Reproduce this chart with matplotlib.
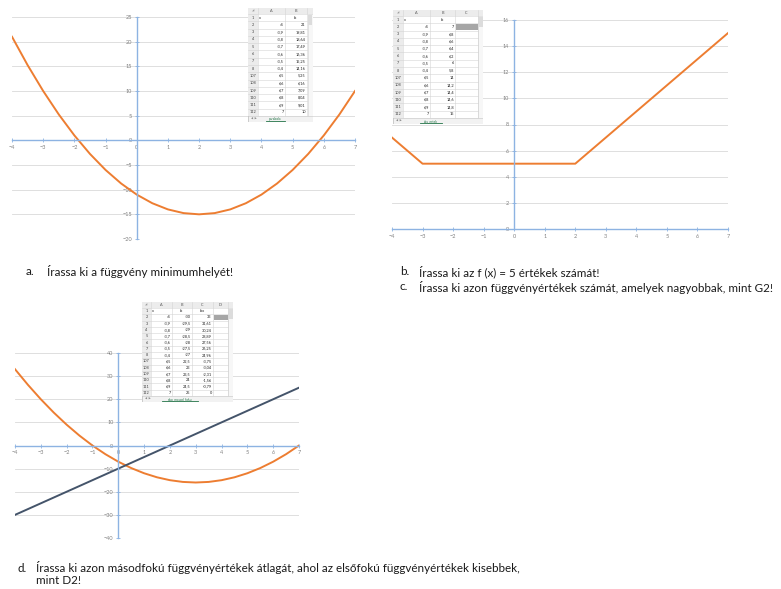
import numpy as np
import matplotlib.pyplot as plt
from matplotlib.patches import Rectangle

plt.rcParams['font.family'] = ['Lato', 'DejaVu Sans']

W, H = 781, 589

# chart data
xs = [-4, -3.5, -3, -2.5, -2, -1.5, -1, -0.5, 0, 0.5, 1, 1.5, 2, 2.5, 3, 3.5,
      4, 4.5, 5, 5.5, 6, 6.5, 7]
parab = [21, 15.25, 10, 5.25, 1, -2.75, -6, -8.75, -11, -12.75, -14, -14.75, -15,
         -14.75, -14, -12.75, -11, -8.75, -6, -2.75, 1, 5.25, 10]
abs_f = [7, 6, 5, 5, 5, 5, 5, 5, 5, 5, 5, 5, 5, 6, 7, 8, 9, 10, 11, 12, 13, 14, 15]
lin = [-30, -27.5, -25, -22.5, -20, -17.5, -15, -12.5, -10, -7.5, -5, -2.5, 0,
       2.5, 5, 7.5, 10, 12.5, 15, 17.5, 20, 22.5, 25]
parab2 = [33, 26.25, 20, 14.25, 9, 4.25, 0, -3.75, -7, -9.75, -12, -13.75, -15,
          -15.75, -16, -15.75, -15, -13.75, -12, -9.75, -7, -3.75, 0]

# excel table snippets
t_rows = [1, 2, 3, 4, 5, 6, 7, 8, 107, 108, 109, 110, 111, 112]
t_x = [-4, -3.9, -3.8, -3.7, -3.6, -3.5, -3.4, 6.5, 6.6, 6.7, 6.8, 6.9, 7]
t1_f = [21, 19.81, 18.64, 17.49, 16.36, 15.25, 14.16, 5.25, 6.16, 7.09, 8.04, 9.01, 10]
t2_f = [7, 6.8, 6.6, 6.4, 6.2, 6, 5.8, 14, 14.2, 14.4, 14.6, 14.8, 15]
t3_lin = [-30, -29.5, -29, -28.5, -28, -27.5, -27, 22.5, 23, 23.5, 24, 24.5, 25]
t3_quad = [33, 31.61, 30.24, 28.89, 27.56, 26.25, 24.96, -3.75, -3.04, -2.31,
           -1.56, -0.79, 0]

ORANGE = '#ed7d31'
NAVY = '#44546a'
AXC = '#8db3e2'

fig = plt.figure(figsize=(W / 100, H / 100), dpi=100)
fig.patch.set_facecolor('white')


def px_axes(x0, y0, x1, y1):
    return fig.add_axes([x0 / W, 1 - y1 / H, (x1 - x0) / W, (y1 - y0) / H])


def chart(box, ylim, yticks):
    ax = px_axes(*box)
    ax.set_xlim(-4, 7)
    ax.set_ylim(*ylim)
    ax.patch.set_alpha(0)
    for s in ['top', 'right']:
        ax.spines[s].set_visible(False)
    for s in ['left', 'bottom']:
        ax.spines[s].set_position(('data', 0))
        ax.spines[s].set_color(AXC)
        ax.spines[s].set_linewidth(1.0)
    ax.set_xticks(range(-4, 8))
    ax.set_yticks(yticks)
    ax.grid(axis='y', color='#d9d9d9', lw=0.6)
    ax.set_axisbelow(True)
    ax.tick_params(direction='inout', length=3, width=0.6, color=AXC,
                   labelsize=4, labelcolor='#808080', pad=2)
    return ax


ax1 = chart((12, 17, 355, 239), (-20, 25), range(-20, 26, 5))
ax1.plot(xs, parab, color=ORANGE, lw=1.4)

ax2 = chart((392, 20, 728, 229), (0, 16), range(0, 17, 2))
ax2.plot(xs, abs_f, color=ORANGE, lw=1.4)

ax3 = chart((15, 353, 299, 538), (-40, 40), range(-40, 41, 10))
ax3.plot(xs, parab2, color=ORANGE, lw=1.4)
ax3.plot(xs, lin, color=NAVY, lw=1.4)


def fmt(v):
    return ('%g' % v).replace('.', ',')


def sheet(box, colw, heads, cols, grey_col, tab):
    x0, y0, x1, y1 = box
    w, h = x1 - x0, y1 - y0
    ax = px_axes(x0, y0, x1, y1)
    ax.set_xlim(0, w)
    ax.set_ylim(h, 0)
    ax.axis('off')
    hh, tb = 6, 6
    fs = 2.8
    rh = (h - hh - tb) / len(t_rows)
    ax.add_patch(Rectangle((0, 0), w, h, fc='white', ec='#bfbfbf', lw=0.6))
    ax.add_patch(Rectangle((0, 0), w, hh, fc='#ececec', ec='none'))
    ax.add_patch(Rectangle((0, 0), colw[0], h - tb, fc='#ececec', ec='none'))
    ax.add_patch(Rectangle((0, h - tb), w, tb, fc='#f2f2f2', ec='#bfbfbf', lw=0.4))
    ax.add_patch(Rectangle((w - 5, hh), 5, h - hh - tb, fc='#f7f7f7', ec='#cfcfcf', lw=0.4))
    ax.add_patch(Rectangle((w - 4.5, hh + 1), 4, 10, fc='#dcdcdc', ec='none'))
    edges = np.cumsum([0] + colw)
    letters = ['A', 'B', 'C', 'D']
    ax.text(colw[0] / 2, hh / 2, '◢', fontsize=2.2, color='#9a9a9a', ha='center', va='center')
    for i in range(1, len(colw)):
        ax.text((edges[i] + edges[i + 1]) / 2, hh / 2, letters[i - 1], fontsize=fs,
                color='#555555', ha='center', va='center')
    for e in edges[1:]:
        ax.plot([e, e], [0, h - tb], color='#d4d4d4', lw=0.4)
    for r, rn in enumerate(t_rows):
        yt = hh + r * rh
        ax.plot([0, edges[-1]], [yt, yt], color='#d4d4d4', lw=0.4)
        ym = yt + rh / 2
        ax.text(colw[0] / 2, ym, str(rn), fontsize=fs, color='#444444',
                ha='center', va='center')
        if r == 0:
            for i, t in enumerate(heads):
                if i == 0:
                    ax.text(edges[1] + 1, ym, t, fontsize=fs, color='#222222',
                            ha='left', va='center')
                else:
                    ax.text((edges[i + 1] + edges[i + 2]) / 2, ym, t, fontsize=fs,
                            color='#222222', ha='center', va='center')
            continue
        for i, col in enumerate(cols):
            ax.text(edges[i + 2] - 1.2, ym, fmt(col[r - 1]), fontsize=fs,
                    color='#222222', ha='right', va='center')
        if r == 1 and grey_col is not None:
            ax.add_patch(Rectangle((edges[grey_col] + 0.5, yt + 0.5),
                                   colw[grey_col] - 1, rh - 1, fc='#a6a6a6', ec='none'))
    ax.text(3, h - tb / 2, '◀  ▶', fontsize=2, color='#888888', va='center')
    tx = w * 0.42
    ax.text(tx, h - tb / 2, tab, fontsize=2.3, color='#217346', ha='center', va='center')
    ax.plot([tx - len(tab) * 1.2, tx + len(tab) * 1.2], [h - 1, h - 1], color='#217346', lw=0.6)


sheet((248, 8, 313, 122), [10, 27, 22], ['x', 'fx'], [t_x, t1_f], None, 'parabola')
sheet((393, 10, 483, 124), [10, 27, 25, 23], ['x', 'fx'], [t_x, t2_f], 3, 'abs_ertek')
sheet((142, 302, 233, 402), [9, 21, 20, 21, 15], ['x', 'fx', 'fxx'],
      [t_x, t3_lin, t3_quad], 4, 'elso_masod_foku')

# task texts
ts = dict(fontsize=8.4, color='#1a1a1a', va='center')
fig.text(26 / W, 1 - 272 / H, 'a.', **ts)
fig.text(47 / W, 1 - 272 / H, 'Írassa ki a függvény minimumhelyét!', **ts)
fig.text(400 / W, 1 - 272 / H, 'b.', **ts)
fig.text(419 / W, 1 - 272 / H, 'Írassa ki az f (x) = 5 értékek számát!', **ts)
fig.text(400 / W, 1 - 287 / H, 'c.', **ts)
fig.text(419 / W, 1 - 287 / H,
         'Írassa ki azon függvényértékek számát, amelyek nagyobbak, mint G2!', **ts)
fig.text(18 / W, 1 - 568 / H, 'd.', **ts)
fig.text(36 / W, 1 - 568 / H,
         'Írassa ki azon másodfokú függvényértékek átlagát, ahol az elsőfokú '
         'függvényértékek kisebbek,', **ts)
fig.text(36 / W, 1 - 580 / H, 'mint D2!', **ts)

fig.savefig('out.png', dpi=100, facecolor='white')
